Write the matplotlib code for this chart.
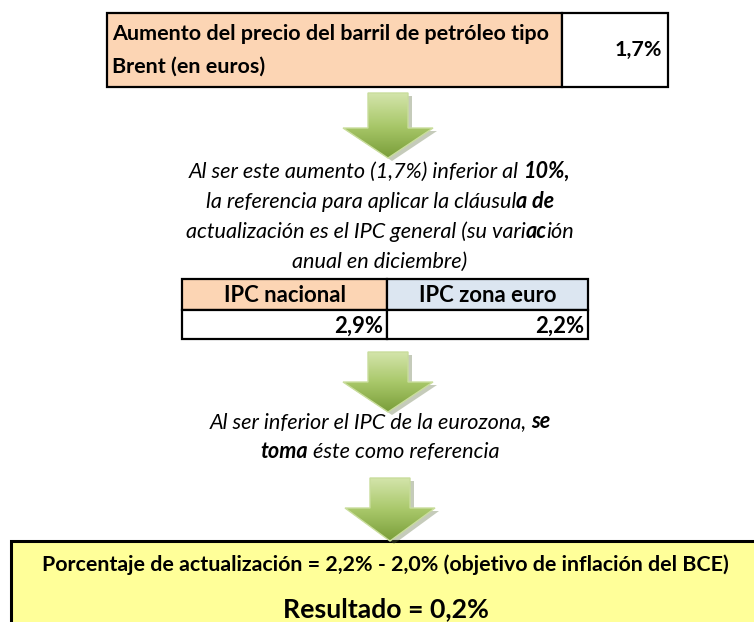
import matplotlib
matplotlib.use("Agg")
import matplotlib.pyplot as plt
import numpy as np
from matplotlib.patches import Polygon, Rectangle
from matplotlib.colors import LinearSegmentedColormap

FAMILY = ["Lato", "DejaVu Sans"]

# datos
brent_label = ["Aumento del precio del barril de petróleo tipo", "Brent (en euros)"]
brent_increase = 1.7
ipc_labels = ["IPC nacional", "IPC zona euro"]
ipc_values = [2.9, 2.2]
bce_target = 2.0
result_value = 0.2

COL_ORANGE = "#fcd5b4"
COL_BLUE = "#dce6f1"
COL_YELLOW = "#ffff99"

W, H = 754, 622
fig = plt.figure(figsize=(W / 100, H / 100), dpi=100)
ax = fig.add_axes([0, 0, 1, 1])
ax.set_xlim(0, W)
ax.set_ylim(H, 0)
ax.axis("off")
renderer = fig.canvas.get_renderer()


def pct(v):
    return f"{v:.1f}%".replace(".", ",")


def measure(txt, size, weight="normal", style="normal"):
    # ancho en px incluyendo espacios en los bordes
    def w(s):
        t = ax.text(0, 0, s, fontsize=size, fontweight=weight, fontstyle=style, family=FAMILY)
        bb = t.get_window_extent(renderer)
        t.remove()
        return bb.width
    return w("|" + txt + "|") - w("||")


def fit(txt, target, weight="normal", style="normal"):
    return 10 * target / measure(txt, 10, weight, style)


def rich_line(cx, y, pieces, size):
    widths = [measure(t, size, wgt, sty) for t, wgt, sty in pieces]
    x = cx - sum(widths) / 2
    for (t, wgt, sty), wd in zip(pieces, widths):
        ax.text(x, y, t, fontsize=size, fontweight=wgt, fontstyle=sty,
                family=FAMILY, ha="left", va="baseline")
        x += wd


def cell(x0, y0, x1, y1, color, lw=1.6):
    ax.add_patch(Rectangle((x0, y0), x1 - x0, y1 - y0, facecolor=color,
                           edgecolor="black", linewidth=lw, zorder=1))


green = LinearSegmentedColormap.from_list("g", ["#d3e4aa", "#a9c86a", "#7a9e3a"])


def arrow(cx, top, neck, tip, sw=20, hw=45):
    pts = [(cx - sw, top), (cx + sw, top), (cx + sw, neck), (cx + hw, neck),
           (cx, tip), (cx - hw, neck), (cx - sw, neck)]
    shadow = Polygon([(x + 4, y + 3) for x, y in pts], closed=True,
                     facecolor="#5a6b3a", edgecolor="none", alpha=0.35, zorder=2)
    ax.add_patch(shadow)
    poly = Polygon(pts, closed=True, facecolor="none", edgecolor="#c9dd9c",
                   linewidth=1.0, zorder=4)
    ax.add_patch(poly)
    grad = np.linspace(0, 1, 64).reshape(-1, 1)
    im = ax.imshow(grad, cmap=green, extent=(cx - hw, cx + hw, tip, top),
                   aspect="auto", zorder=3, interpolation="bilinear")
    im.set_clip_path(poly)


# caja superior
cell(107, 13, 562, 87, COL_ORANGE)
cell(562, 13, 668, 87, "white")
s_top = fit(brent_label[0], 438, "bold")
ax.text(112, 40, brent_label[0], fontsize=s_top, fontweight="bold", family=FAMILY, va="baseline")
ax.text(112, 73, brent_label[1], fontsize=s_top, fontweight="bold", family=FAMILY, va="baseline")
ax.text(662, 56, pct(brent_increase), fontsize=s_top, fontweight="bold", family=FAMILY,
        ha="right", va="baseline")

arrow(388, 93, 128, 158)

# texto 1
line1 = f"Al ser este aumento ({pct(brent_increase)}) inferior al 10%,"
s_it = fit(line1, 381, "normal", "italic")
I, B = "normal", "bold"
rich_line(380, 178, [(f"Al ser este aumento ({pct(brent_increase)}) inferior al ", I, "italic"),
                     ("10%,", B, "italic")], s_it)
rich_line(380, 208, [("la referencia para aplicar la cláusul", I, "italic"),
                     ("a de", B, "italic")], s_it)
rich_line(380, 238, [("actualización es el IPC general (su vari", I, "italic"),
                     ("ac", B, "italic"), ("ión", I, "italic")], s_it)
rich_line(380, 268, [("anual en diciembre)", I, "italic")], s_it)

# tabla IPC
xs = [182, 387, 588]
cell(xs[0], 279, xs[1], 310, COL_ORANGE)
cell(xs[1], 279, xs[2], 310, COL_BLUE)
cell(xs[0], 310, xs[1], 339, "white")
cell(xs[1], 310, xs[2], 339, "white")
s_tab = fit(ipc_labels[0], 122, "bold")
for i in range(2):
    ax.text((xs[i] + xs[i + 1]) / 2, 302, ipc_labels[i], fontsize=s_tab, fontweight="bold",
            family=FAMILY, ha="center", va="baseline")
    ax.text(xs[i + 1] - 4, 333, pct(ipc_values[i]), fontsize=s_tab, fontweight="bold",
            family=FAMILY, ha="right", va="baseline")

arrow(388, 352, 382, 412)

# texto 2
rich_line(380, 428, [("Al ser inferior el IPC de la eurozona, ", I, "italic"),
                     ("se", B, "italic")], s_it)
rich_line(380, 458, [("toma", B, "italic"), (" éste como referencia", I, "italic")], s_it)

# caja inferior
ax.add_patch(Rectangle((11, 541), W + 10, 100, facecolor=COL_YELLOW, edgecolor="black",
                       linewidth=2.2, zorder=1))
arrow(390, 478, 508, 541)

formula = (f"Porcentaje de actualización = {pct(ipc_values[1])} - {pct(bce_target)} "
           "(objetivo de inflación del BCE)")
s_f = fit(formula, 690, "bold")
ax.text(385, 571, formula, fontsize=s_f, fontweight="bold", family=FAMILY,
        ha="center", va="baseline", zorder=5)
res = f"Resultado = {pct(result_value)}"
s_r = fit(res, 207, "bold")
ax.text(386, 617, res, fontsize=s_r, fontweight="bold", family=FAMILY,
        ha="center", va="baseline", zorder=5)

fig.savefig("out.png", dpi=100)
